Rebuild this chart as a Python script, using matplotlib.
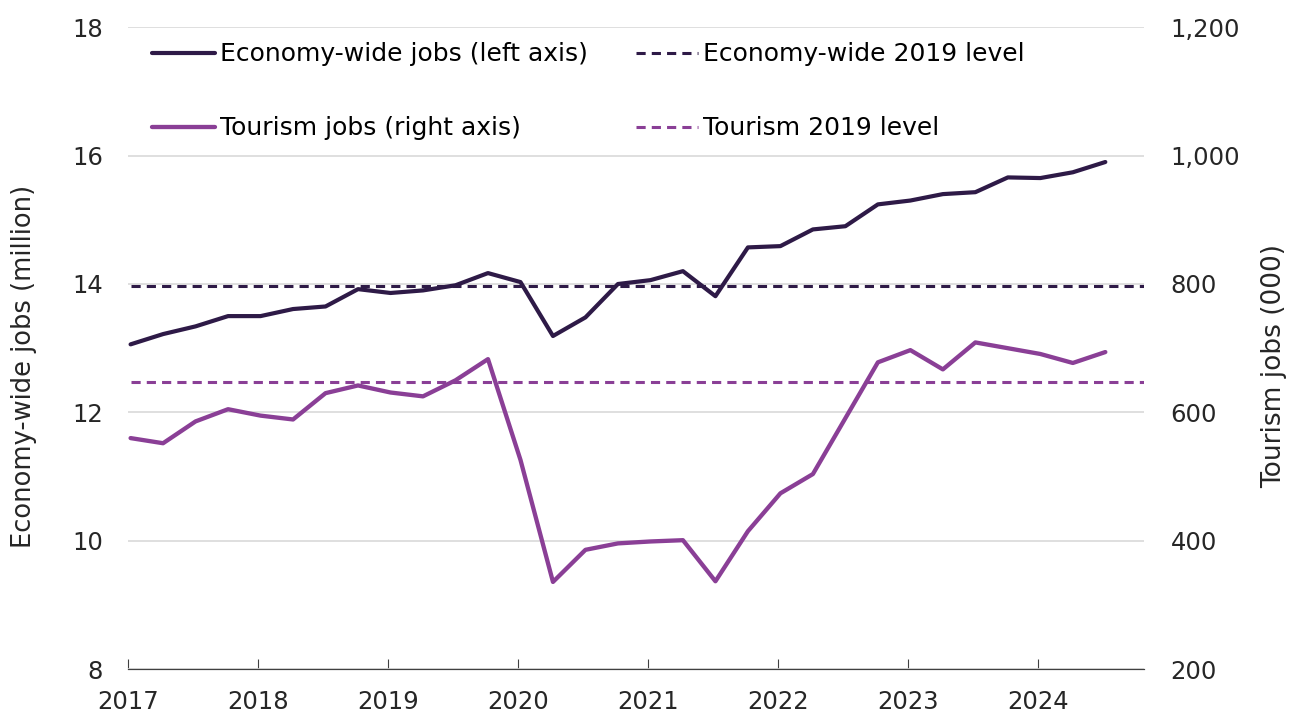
import numpy as np
import matplotlib.pyplot as plt
from matplotlib.ticker import FuncFormatter

# quarterly observations, Q1 2017 .. Q3 2024
quarters = 2017.02 + 0.25 * np.arange(31)

economy_jobs = [13.06, 13.22, 13.34, 13.50, 13.50, 13.61, 13.65, 13.92, 13.86, 13.90,
                13.98, 14.17, 14.03, 13.19, 13.48, 14.00, 14.06, 14.20, 13.81, 14.57,
                14.59, 14.85, 14.90, 15.24, 15.30, 15.40, 15.43, 15.66, 15.65, 15.74,
                15.90]
tourism_jobs = [560, 552, 586, 605, 595, 589, 630, 642, 631, 625,
                650, 683, 526, 336, 386, 396, 399, 401, 337, 415,
                474, 504, 591, 678, 697, 667, 709, 700, 691, 677,
                694]
economy_2019 = 13.97
tourism_2019 = 647

dark = '#2e1a47'
light = '#8a3f96'
txt = '#262626'

plt.rcParams['font.family'] = 'DejaVu Sans'
plt.rcParams['font.size'] = 17.5

fig = plt.figure(figsize=(12.98, 7.15), dpi=100)
ax = fig.add_axes([0.0986, 0.064, 0.783, 0.898])
ax2 = ax.twinx()

l1, = ax.plot(quarters, economy_jobs, color=dark, lw=3, solid_capstyle='round',
              label='Economy-wide jobs (left axis)', zorder=3)
l3, = ax.plot([2017.02, 2024.82], [economy_2019] * 2, color=dark, lw=2.2, ls=(0, (3, 2)),
              label='Economy-wide 2019 level', zorder=3)
l2, = ax2.plot(quarters, tourism_jobs, color=light, lw=3.1, solid_capstyle='round',
               label='Tourism jobs (right axis)', zorder=3)
l4, = ax2.plot([2017.02, 2024.82], [tourism_2019] * 2, color=light, lw=2.2, ls=(0, (3, 2)),
               label='Tourism 2019 level', zorder=3)

ax.set_xlim(2017, 2024.82)
ax.set_ylim(8, 18)
ax2.set_ylim(200, 1200)
ax.set_yticks(range(8, 19, 2))
ax2.set_yticks(range(200, 1201, 200))
ax2.yaxis.set_major_formatter(FuncFormatter(lambda v, p: f'{int(v):,}'))
ax.set_xticks(range(2017, 2025))

ax.grid(axis='y', color='#d9d9d9', lw=1.2)
ax.set_axisbelow(True)
for a in (ax, ax2):
    for s in ('top', 'right', 'left'):
        a.spines[s].set_visible(False)
    a.spines['bottom'].set_color('#404040')
ax.tick_params(axis='y', length=0, pad=18, colors=txt)
ax2.tick_params(axis='y', length=0, pad=19, colors=txt)
ax.tick_params(axis='x', direction='in', length=7, color='#404040', pad=15, labelcolor=txt)

ax.set_ylabel('Economy-wide jobs (million)', color=txt, fontsize=18.5)
ax2.set_ylabel('Tourism jobs (000)', color=txt, fontsize=19)
ax.yaxis.set_label_coords(-0.09, 0.472)
ax2.yaxis.set_label_coords(1.115, 0.472)

leg_kw = dict(loc='upper left', frameon=False, handlelength=2.5, handletextpad=0.2,
              labelspacing=2.0, borderaxespad=0, fontsize=18)
leg1 = ax.legend(handles=[l1, l2], bbox_to_anchor=(0.0138, 0.992), **leg_kw)
ax.add_artist(leg1)
ax.legend(handles=[l3, l4], bbox_to_anchor=(0.49, 0.992), **leg_kw)

fig.savefig('out.png', dpi=100)
